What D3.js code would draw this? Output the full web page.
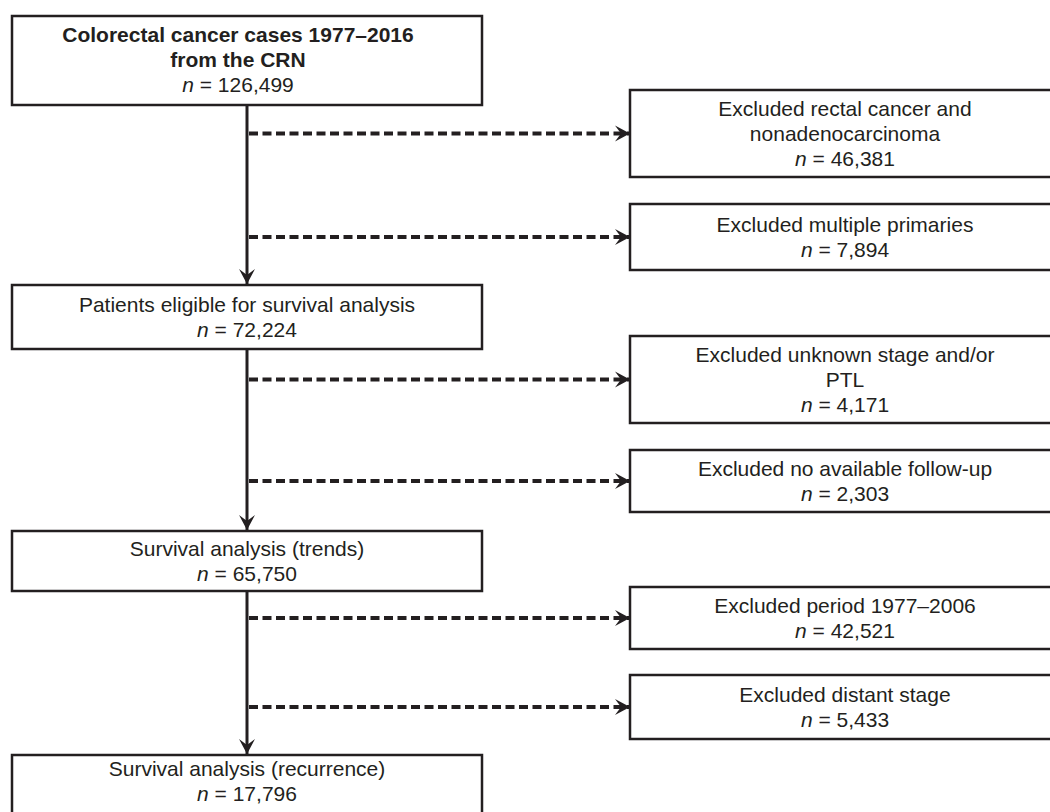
<!DOCTYPE html>
<html>
<head>
<meta charset="utf-8">
<script src="https://cdn.jsdelivr.net/npm/d3@7"></script>
<style>
  body { margin: 0; background: #fff; }
  svg { display: block; font-family: "Liberation Sans", Arial, sans-serif; }
</style>
</head>
<body>
<div class="container"></div>
<script>
// flow data
var mainLabels = [
    ['Colorectal cancer cases 1977\u20132016', 'from the CRN'],
    ['Patients eligible for survival analysis'],
    ['Survival analysis (trends)'],
    ['Survival analysis (recurrence)']
];
var mainCounts = ['126,499', '72,224', '65,750', '17,796'];

var exclLabels = [
    ['Excluded rectal cancer and', 'nonadenocarcinoma'],
    ['Excluded multiple primaries'],
    ['Excluded unknown stage and/or', 'PTL'],
    ['Excluded no available follow-up'],
    ['Excluded period 1977\u20132006'],
    ['Excluded distant stage']
];
var exclCounts = ['46,381', '7,894', '4,171', '2,303', '42,521', '5,433'];
// which main step each exclusion hangs off
var exclStep = [0, 0, 1, 1, 2, 2];

// layout (kept apart from the data)
var width = 1050, height = 812;
var ink = '#231f20';
var fs = 21, lh = 25;
var mainX = [12, 482], exclX = [630, 1062];
var spineX = 247;
var mainY = [[16, 105], [285, 349], [531, 591], [755, 807]];
var exclY = [[90, 177], [204, 270], [336, 423], [450, 512], [587, 649], [675, 739]];

var x = d3.scaleLinear().domain([0, 1]).range([0, width]);

var svg = d3.select('.container')
    .append('svg')
    .attr('width', width)
    .attr('height', height);

svg.append('rect').attr('width', width).attr('height', height).attr('fill', '#fff');

var defs = svg.append('defs');
defs.append('marker')
    .attr('id', 'head')
    .attr('markerUnits', 'userSpaceOnUse')
    .attr('viewBox', '-16 -9 17 18')
    .attr('refX', 0)
    .attr('refY', 0)
    .attr('markerWidth', 17)
    .attr('markerHeight', 18)
    .attr('orient', 'auto')
    .append('path')
    .attr('d', 'M0,0 L-15,-8 L-9,0 L-15,8 Z')
    .attr('fill', ink);

function addText(g, lines, count, cx, cy, bold) {
    var n = lines.length + 1;
    var t = g.append('text')
        .attr('text-anchor', 'middle')
        .attr('fill', ink)
        .style('font-size', fs + 'px');
    lines.forEach(function(s, i) {
        t.append('tspan')
            .attr('x', cx)
            .attr('y', cy + (i - (n - 1) / 2) * lh + 7.5)
            .style('font-weight', bold ? 'bold' : 'normal')
            .text(s);
    });
    var last = t.append('tspan')
        .attr('x', cx)
        .attr('y', cy + ((n - 1) / 2) * lh + 7.5);
    last.append('tspan').style('font-style', 'italic').text('n');
    last.append('tspan').text(' = ' + count);
}

// spine arrows between main boxes
svg.selectAll('line.spine')
    .data(d3.range(mainY.length - 1))
    .enter()
    .append('line')
    .attr('class', 'spine')
    .attr('x1', spineX).attr('x2', spineX)
    .attr('y1', d => mainY[d][1] + 1)
    .attr('y2', d => mainY[d + 1][0] - 1)
    .attr('stroke', ink)
    .attr('stroke-width', 3)
    .attr('marker-end', 'url(#head)');

// dashed exclusion arrows
svg.selectAll('line.excl')
    .data(exclY)
    .enter()
    .append('line')
    .attr('class', 'excl')
    .attr('x1', spineX + 2)
    .attr('x2', exclX[0])
    .attr('y1', d => (d[0] + d[1]) / 2)
    .attr('y2', d => (d[0] + d[1]) / 2)
    .attr('stroke', ink)
    .attr('stroke-width', 4)
    .attr('stroke-dasharray', '9,4.5')
    .attr('marker-end', 'url(#head)');

// main boxes
mainLabels.forEach(function(lines, i) {
    var g = svg.append('g');
    var y0 = mainY[i][0], y1 = mainY[i][1];
    g.append('rect')
        .attr('x', mainX[0]).attr('y', y0)
        .attr('width', mainX[1] - mainX[0])
        .attr('height', (y1 - y0) + (i == mainLabels.length - 1 ? 20 : 0))
        .attr('fill', '#fff')
        .attr('stroke', ink)
        .attr('stroke-width', 2.5);
    var cx = i == 0 ? 238 : (mainX[0] + mainX[1]) / 2;
    var cy = i == 0 ? (y0 + y1) / 2 - 1.5 : (y0 + y1) / 2;
    addText(g, lines, mainCounts[i], cx, cy, i == 0);
});

// exclusion boxes
exclLabels.forEach(function(lines, i) {
    var g = svg.append('g');
    var y0 = exclY[i][0], y1 = exclY[i][1];
    g.append('rect')
        .attr('x', exclX[0]).attr('y', y0)
        .attr('width', exclX[1] - exclX[0])
        .attr('height', y1 - y0)
        .attr('fill', '#fff')
        .attr('stroke', ink)
        .attr('stroke-width', 2.5);
    addText(g, lines, exclCounts[i], 845, (y0 + y1) / 2, false);
});
</script>
</body>
</html>
